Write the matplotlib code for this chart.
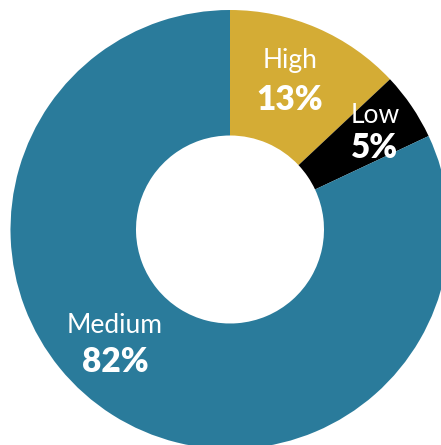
import matplotlib.pyplot as plt

labels = ['High', 'Low', 'Medium']
shares = [13, 5, 82]
colors = ['#D4AC35', '#000000', '#2A7B9B']

# label anchors in pixels (name baseline, value baseline)
label_px = {'High': (290, 68, 110), 'Low': (375, 123, 158), 'Medium': (115, 333, 372)}

W, H = 441, 445
cx, cy, R = 230, 229.5, 219.5

fig = plt.figure(figsize=(W / 100, H / 100), dpi=100)
ax = fig.add_axes([0, 0, 1, 1])
ax.pie(shares, colors=colors, startangle=90, counterclock=False, radius=1,
       wedgeprops=dict(width=1 - 94 / R, linewidth=0))
ax.set_xlim(-cx / R, (W - cx) / R)
ax.set_ylim(-(H - cy) / R, cy / R)
ax.set_aspect('auto')
ax.axis('off')

for name, share in zip(labels, shares):
    px, y1, y2 = label_px[name]
    x = (px - cx) / R
    ax.text(x, (cy - y1) / R, name, ha='center', va='baseline', color='white',
            fontsize=19, family='Lato')
    ax.text(x, (cy - y2) / R, f'{share}%', ha='center', va='baseline', color='white',
            fontsize=24, family='Lato', fontweight='heavy')

fig.savefig('out.png', dpi=100)
